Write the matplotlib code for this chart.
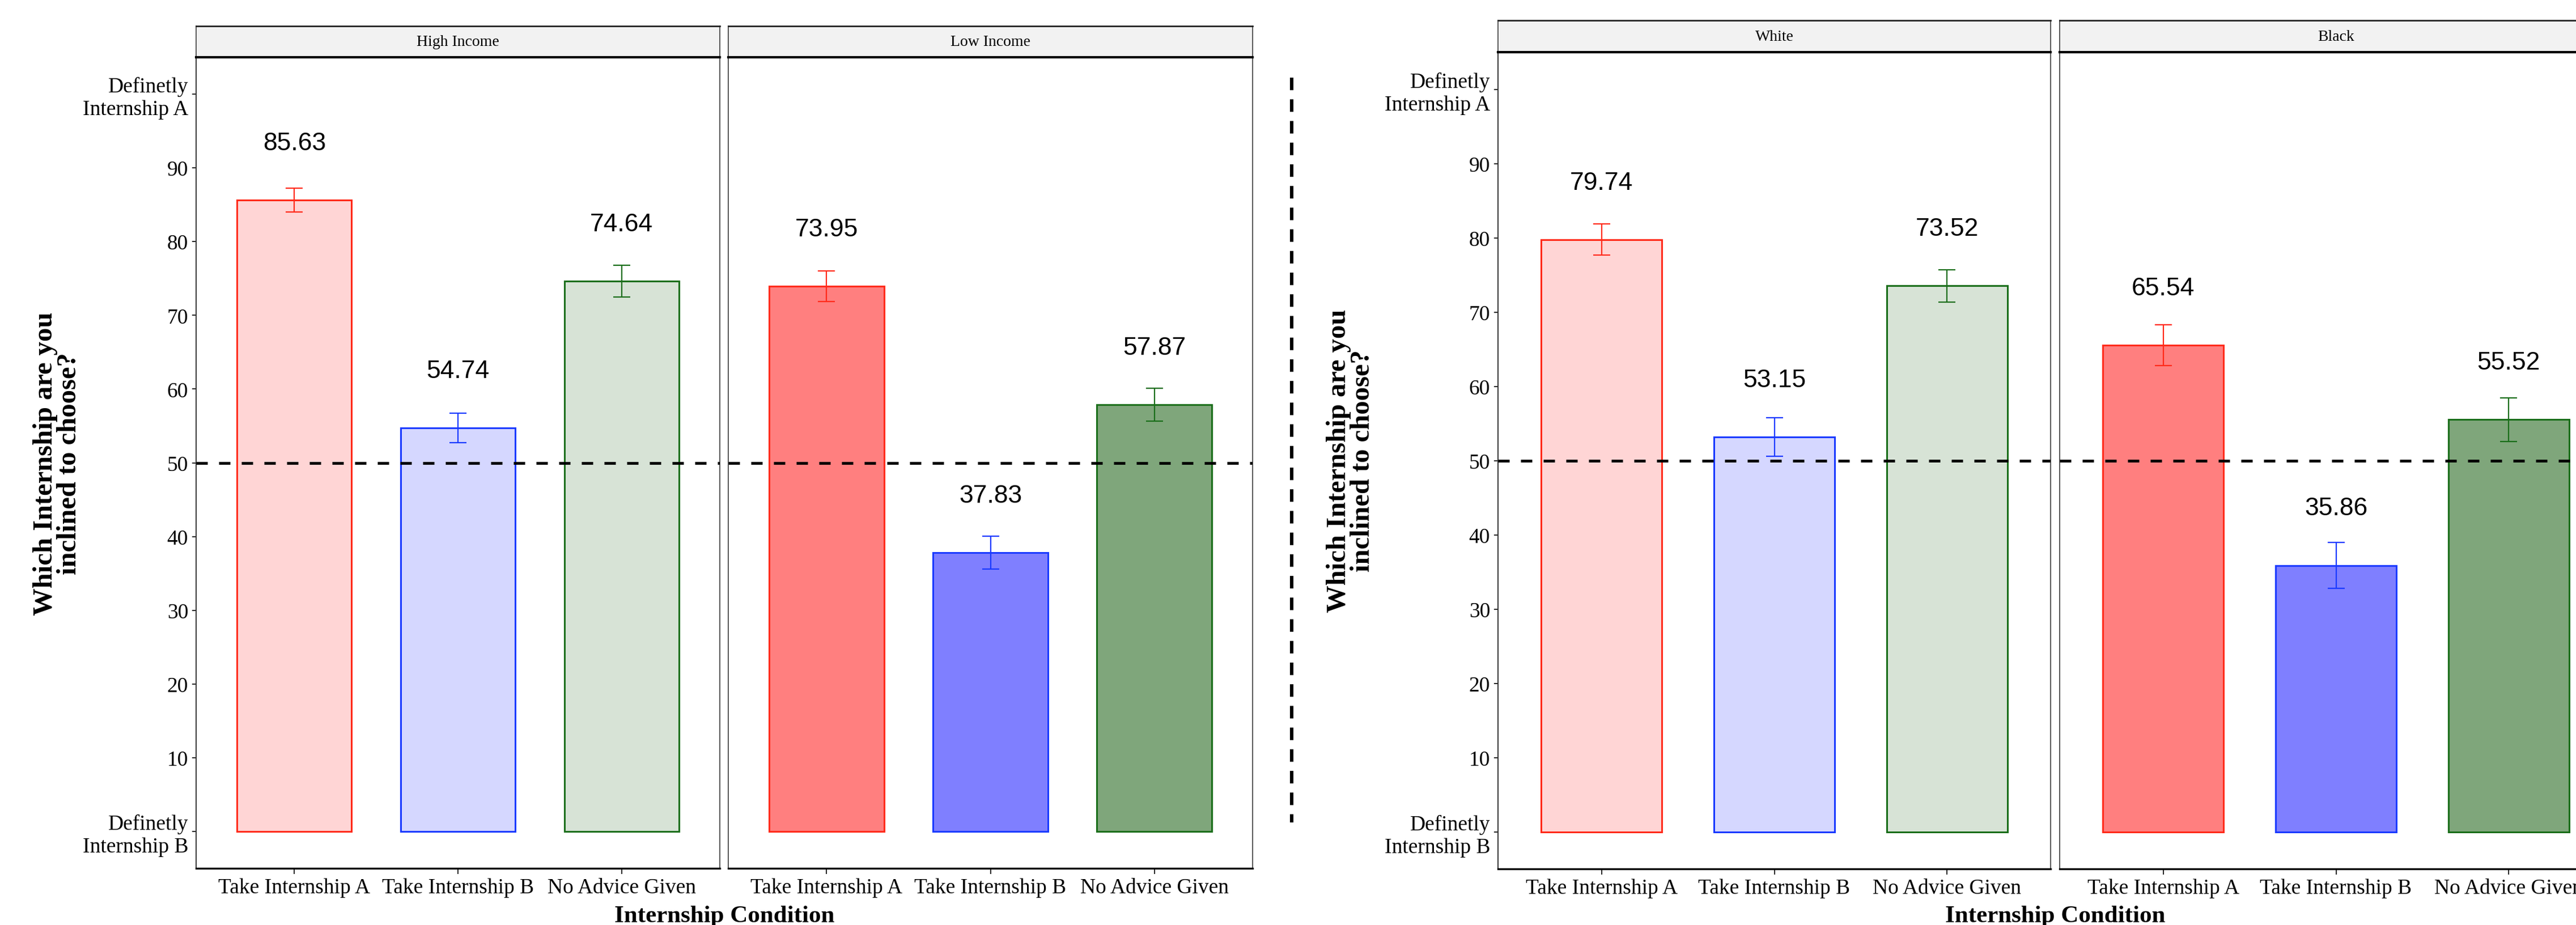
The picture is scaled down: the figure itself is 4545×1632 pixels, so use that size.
import matplotlib.pyplot as plt
from matplotlib.lines import Line2D

# Mean rating (0 = Definetly Internship B, 100 = Definetly Internship A) and standard errors
conditions = ["Take Internship A", "Take Internship B", "No Advice Given"]

high_income_means = [85.63, 54.74, 74.64]
high_income_se = [1.65, 2.0, 2.15]
low_income_means = [73.95, 37.83, 57.87]
low_income_se = [2.1, 2.25, 2.2]

white_means = [79.74, 53.15, 73.52]
white_se = [2.1, 2.6, 2.2]
black_means = [65.54, 35.86, 55.52]
black_se = [2.75, 3.1, 2.95]

ytick_vals = [0, 10, 20, 30, 40, 50, 60, 70, 80, 90, 100]
ytick_labels = ["Definetly\nInternship B", "10", "20", "30", "40", "50",
                "60", "70", "80", "90", "Definetly\nInternship A"]

edge_cols = ["#FF2A1A", "#1A3AFF", "#1A6E1A"]
light_fills = ["#FFD5D5", "#D5D7FF", "#D7E3D6"]
dark_fills = ["#FF7F7F", "#7F7FFF", "#7FA67B"]

SERIF = "Liberation Serif"
SANS = "Liberation Sans"

W, H = 4545, 1633
fig = plt.figure(figsize=(W / 100, H / 100), dpi=100)


def px_axes(left, right, top, bottom):
    return fig.add_axes([left / W, 1 - bottom / H, (right - left) / W, (bottom - top) / H])


def draw_panel(left, right, top, bottom, strip_top, title, means, se, fills, first):
    ax = px_axes(left, right, top, bottom)
    x = [1, 2, 3]
    ax.bar(x, means, width=0.7, color=fills, edgecolor=edge_cols, linewidth=2.2, zorder=2)
    for xi, m, s, c in zip(x, means, se, edge_cols):
        ax.errorbar(xi, m, yerr=s, fmt="none", ecolor=c, elinewidth=1.6,
                    capsize=11, capthick=1.6, zorder=3)
        ax.text(xi, m + 7.7, f"{m:.2f}", ha="center", va="center",
                fontsize=32, family=SANS, color="black")
    ax.axhline(50, color="black", lw=3.6, ls=(0, (4, 4)), zorder=4)
    ax.set_xlim(0.4, 3.6)
    ax.set_ylim(-5, 105)
    ax.set_xticks(x)
    ax.set_xticklabels(conditions, fontsize=27, family=SERIF)
    ax.tick_params(axis="x", length=7.2, width=1.2, pad=5)
    if first:
        ax.set_yticks(ytick_vals)
        ax.set_yticklabels(ytick_labels, fontsize=27, family=SERIF)
        ax.tick_params(axis="y", length=5, width=1.2, pad=5)
    else:
        ax.set_yticks([])
    for side in ["left", "right", "top"]:
        ax.spines[side].set_color("#555555")
        ax.spines[side].set_linewidth(1.4)
    ax.spines["bottom"].set_color("black")
    ax.spines["bottom"].set_linewidth(2.4)
    if first:
        ax.spines["left"].set_color("#333333")

    # facet strip
    st = px_axes(left, right, strip_top, top)
    st.set_facecolor("#F2F2F2")
    st.set_xticks([])
    st.set_yticks([])
    st.spines["top"].set_color("#222222")
    st.spines["top"].set_linewidth(2.0)
    st.spines["bottom"].set_color("black")
    st.spines["bottom"].set_linewidth(3.0)
    for side in ["left", "right"]:
        st.spines[side].set_color("#555555")
        st.spines[side].set_linewidth(1.4)
    st.text(0.5, 0.5, title, ha="center", va="center", fontsize=20,
            family=SERIF, transform=st.transAxes)
    return ax


# left figure: income
draw_panel(346, 1270, 102, 1533, 47, "High Income", high_income_means, high_income_se, light_fills, True)
draw_panel(1285, 2210, 102, 1533, 47, "Low Income", low_income_means, low_income_se, dark_fills, False)

# right figure: race
draw_panel(2643, 3618, 93, 1534, 37, "White", white_means, white_se, light_fills, True)
draw_panel(3634, 4609, 93, 1534, 37, "Black", black_means, black_se, dark_fills, False)

ylab = "Which Internship are you\ninclined to choose?"
fig.text(101 / W, 1 - 818 / H, ylab, rotation=90, ha="center", va="center",
         fontsize=35, family=SERIF, fontweight="bold", multialignment="center", linespacing=0.92)
fig.text(2383 / W, 1 - 813 / H, ylab, rotation=90, ha="center", va="center",
         fontsize=35, family=SERIF, fontweight="bold", multialignment="center", linespacing=0.92)

fig.text(1278 / W, 6 / H, "Internship Condition", ha="center", va="baseline",
         fontsize=31, family=SERIF, fontweight="bold")
fig.text(3626 / W, 6 / H, "Internship Condition", ha="center", va="baseline",
         fontsize=31, family=SERIF, fontweight="bold")

# dashed divider between the two figures
fig.add_artist(Line2D([2279 / W, 2279 / W], [1 - 138 / H, 1 - 1452 / H],
                      transform=fig.transFigure, color="black", lw=4.3, ls=(0, (3.7, 2.7))))

fig.savefig("out.png", dpi=100, facecolor="white")
